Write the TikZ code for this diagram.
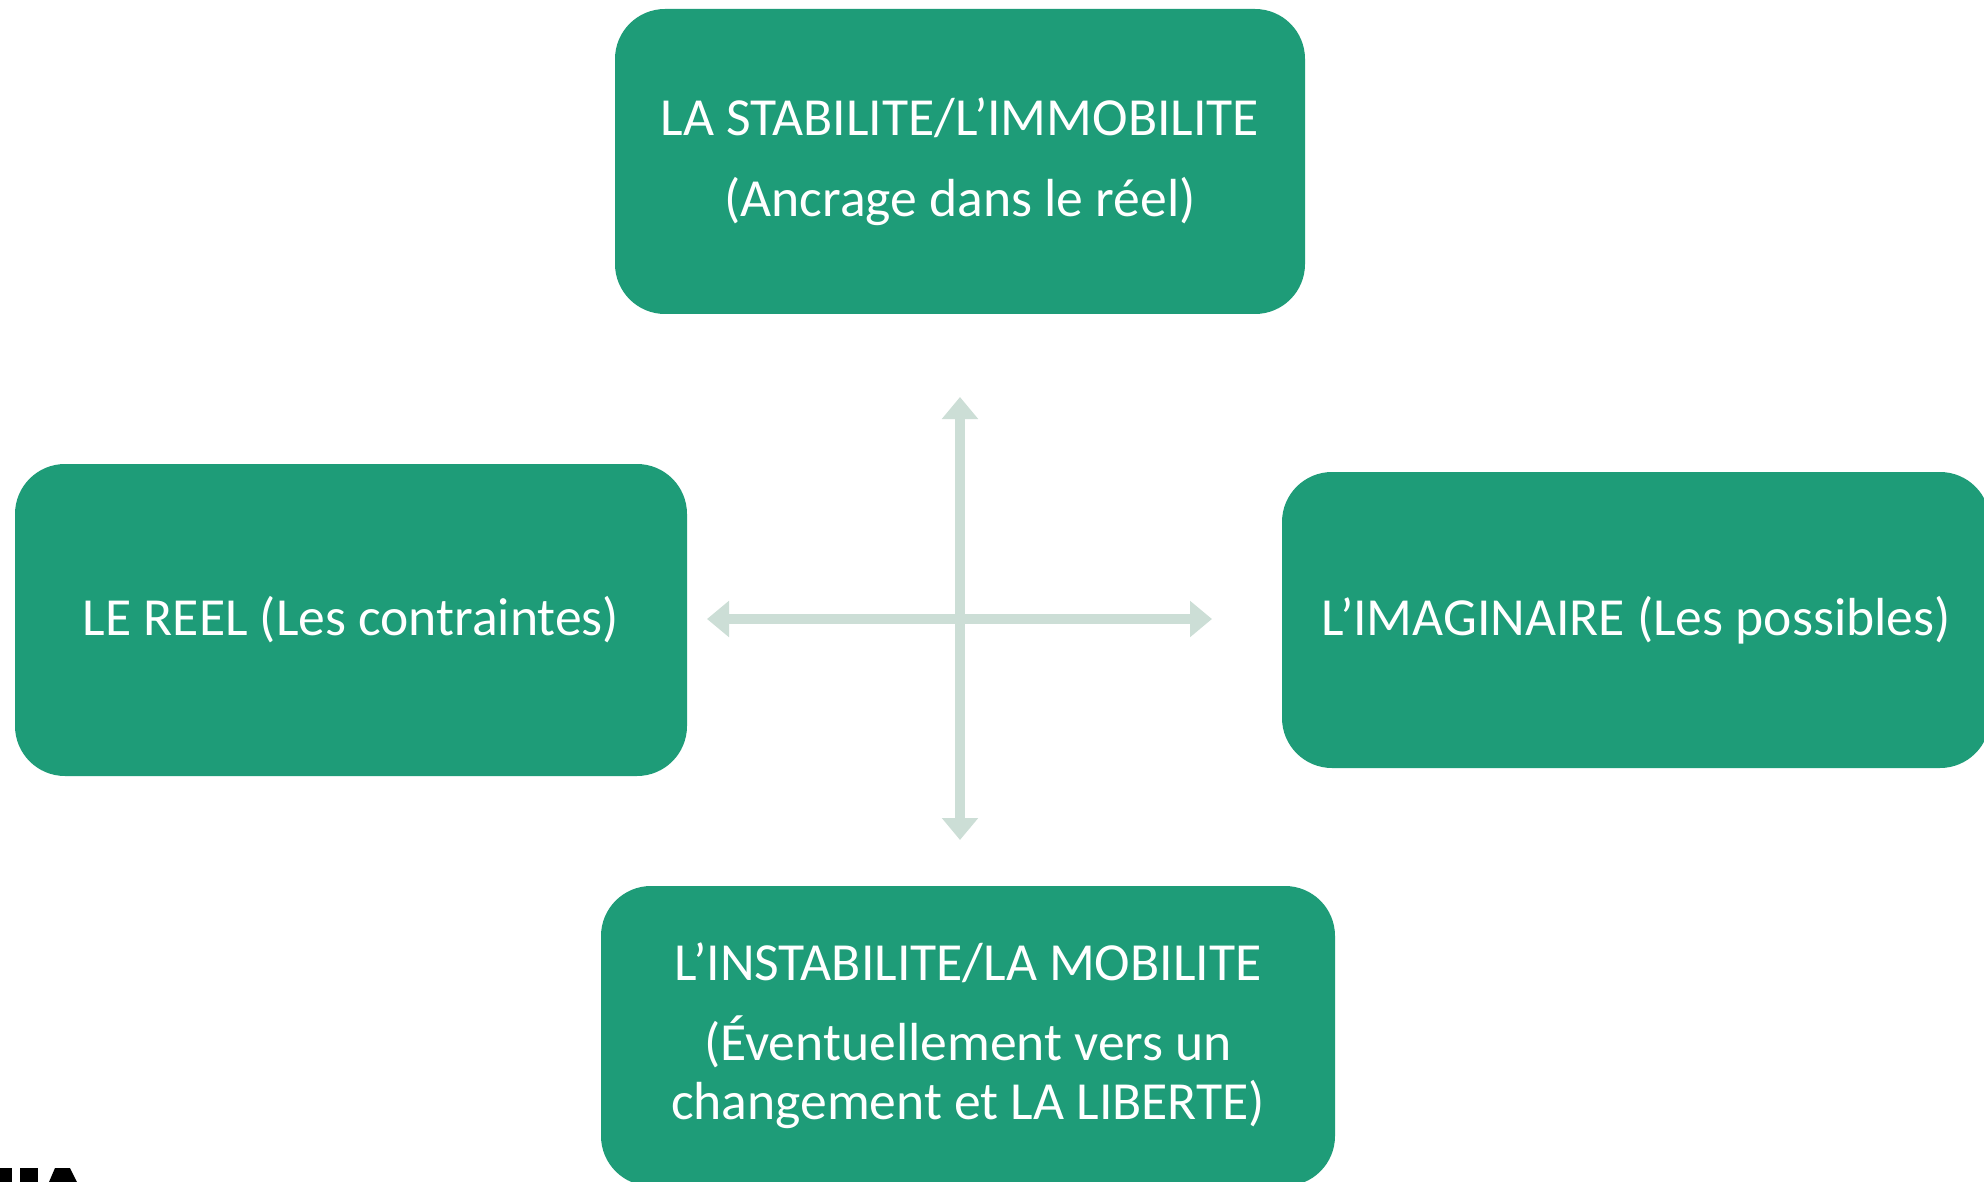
\documentclass[tikz,border=0pt]{standalone}
\usepackage{fontspec}
\setmainfont{Carlito}
\usetikzlibrary{arrows.meta}
\definecolor{boxgreen}{HTML}{1E9C78}
\definecolor{arrowgrey}{HTML}{CCDED6}
\tikzset{
  box/.style={fill=boxgreen,draw=none,rounded corners=50pt,inner sep=0pt,text=white,align=center,
    font=\fontsize{53.6}{59}\selectfont},
  cross/.style={draw=arrowgrey,line width=9.5pt,{Triangle[width=35pt,length=22pt]}-{Triangle[width=35pt,length=22pt]}}
}
\begin{document}
\begin{tikzpicture}[x=1pt,y=-1pt]
\useasboundingbox (0,0) rectangle (1984,1182);
\clip (0,0) rectangle (1984,1182);
\fill[white] (0,0) rectangle (1984,1182);
\node[box,minimum width=690pt,minimum height=305pt] (top) at (960,161.5)
  {LA STABILITE/L’IMMOBILITE\\[22pt](Ancrage dans le réel)};
\node[box,minimum width=672pt,minimum height=312pt] (left) at (351,620)
  {LE REEL (Les contraintes)};
\node[box,minimum width=708pt,minimum height=296pt] (right) at (1636,620)
  {L’IMAGINAIRE (Les possibles)};
\node[box,minimum width=734pt,minimum height=300pt] (bottom) at (968,1036)
  {L’INSTABILITE/LA MOBILITE\\[21pt](Éventuellement vers un\\changement et LA LIBERTE)};
\coordinate (n) at (960,397);
\coordinate (s) at (960,840);
\coordinate (w) at (707,619);
\coordinate (e) at (1212,619);
\draw[cross] (n) -- (s);
\draw[cross] (w) -- (e);
\fill[black] (0,1168) rectangle (12,1182);
\fill[black] (20,1168) rectangle (38,1182);
\fill[black] (55,1168) -- (70,1168) -- (77,1182) -- (49,1182) -- cycle;
\end{tikzpicture}
\end{document}
